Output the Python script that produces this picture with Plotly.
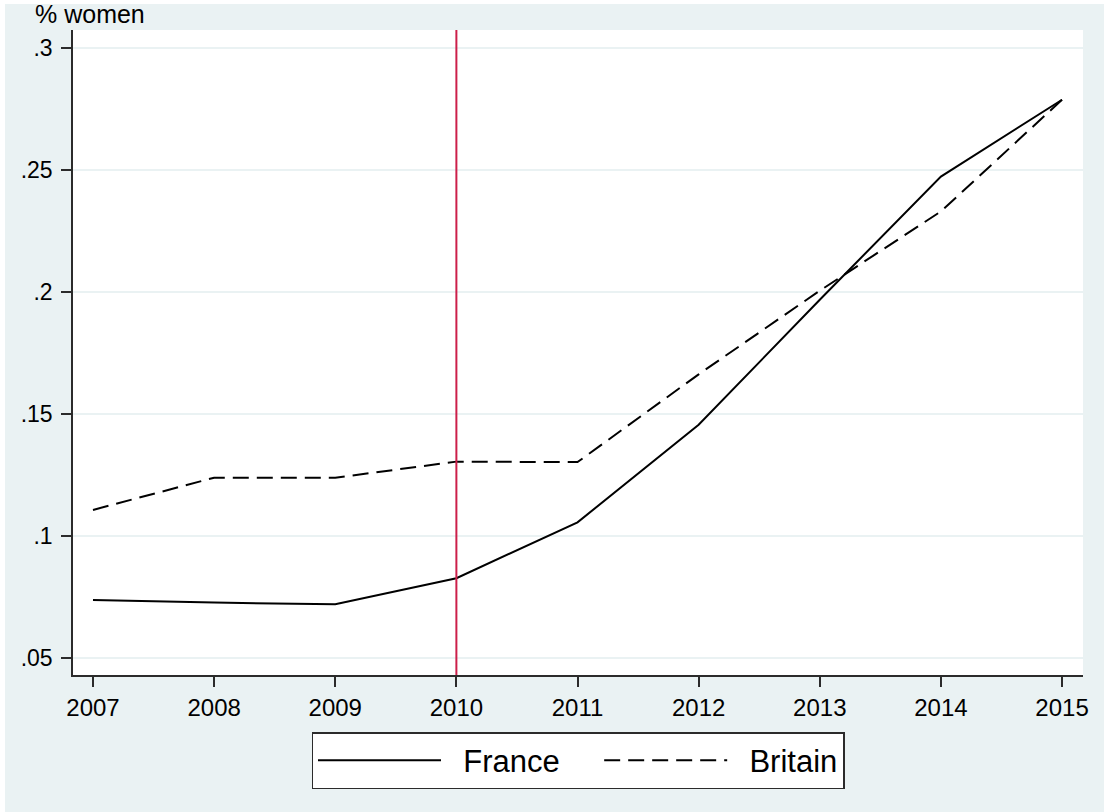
import plotly.graph_objects as go

# Share of women, by year
years = [2007, 2008, 2009, 2010, 2011, 2012, 2013, 2014, 2015]
france = [0.0737, 0.0726, 0.0719, 0.0826, 0.1055, 0.1455, 0.1968, 0.2473, 0.2788]
britain = [0.1106, 0.1238, 0.1238, 0.1304, 0.1302, 0.1662, 0.2005, 0.2330, 0.2788]

y_ticks = [0.05, 0.10, 0.15, 0.20, 0.25, 0.30]
y_tick_labels = [".05", ".1", ".15", ".2", ".25", ".3"]
x_ticks = years
reform_year = 2010

BG = "#EAF2F3"
AXIS = "#2b2b2b"
FONT = "Liberation Sans, Arial, sans-serif"
NB = "\u00a0"  # non-breaking space used to pad legend entries

fig = go.Figure()
fig.add_trace(go.Scatter(
    x=years, y=france, mode="lines", name=NB * 2 + "France" + NB * 4,
    line=dict(color="black", width=2),
))
fig.add_trace(go.Scatter(
    x=years, y=britain, mode="lines", name=NB * 2 + "Britain",
    line=dict(color="black", width=2, dash="16px,8px"),
))

# Outer graph region and white plot region
fig.add_shape(type="rect", xref="paper", yref="paper", layer="below",
              x0=-0.0673, x1=1.03, y0=-0.22, y1=1.0403,
              fillcolor=BG, line=dict(width=0))
fig.add_shape(type="rect", xref="paper", yref="paper", layer="below",
              x0=0, x1=1, y0=0, y1=1,
              fillcolor="white", line=dict(width=0))

# Vertical marker at the reform year
fig.add_shape(type="line", xref="x", yref="paper",
              x0=reform_year, x1=reform_year, y0=0, y1=1,
              line=dict(color="#CC1F4A", width=2))

fig.add_annotation(text="% women", xref="paper", yref="paper",
                   x=-0.0396, y=1.0248, xanchor="left", yanchor="middle",
                   showarrow=False, font=dict(family=FONT, size=25, color="black"))

fig.update_layout(
    width=1104, height=812,
    margin=dict(l=73, r=21, t=30, b=137),
    paper_bgcolor="white",
    plot_bgcolor="white",
    font=dict(family=FONT, color="black"),
    showlegend=True,
    legend=dict(
        orientation="h", x=0.5, xanchor="center", y=-0.0884, yanchor="top",
        bgcolor="white", bordercolor=AXIS, borderwidth=1.5,
        font=dict(family=FONT, size=31, color="black"),
        itemwidth=123, tracegroupgap=0,
    ),
    xaxis=dict(
        range=[2006.835, 2015.173], tickvals=x_ticks,
        ticktext=[str(y) for y in x_ticks],
        showgrid=False, zeroline=False,
        showline=True, linecolor=AXIS, linewidth=1.5,
        ticks="outside", ticklen=10, tickwidth=1.5, tickcolor=AXIS,
        tickfont=dict(family=FONT, size=24, color="black"),
    ),
    yaxis=dict(
        range=[0.0429, 0.3074], tickvals=y_ticks, ticktext=y_tick_labels,
        showgrid=True, gridcolor=BG, gridwidth=1.5, zeroline=False,
        showline=True, linecolor=AXIS, linewidth=1.5,
        ticks="outside", ticklen=10, tickwidth=1.5, tickcolor=AXIS,
        ticklabelstandoff=4,
        tickfont=dict(family=FONT, size=23, color="black"),
    ),
)

fig.write_html("out.html")
